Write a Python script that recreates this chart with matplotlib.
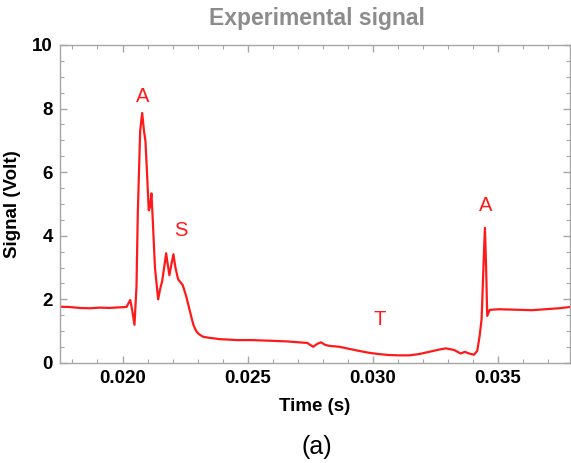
import numpy as np
import matplotlib
matplotlib.use('Agg')
import matplotlib.pyplot as plt
from matplotlib.ticker import MultipleLocator, FormatStrFormatter

# Trace (time in s, signal in V)
time_s = [0.017486, 0.017885, 0.018284, 0.018683, 0.019082, 0.019481, 0.019880,
          0.020160, 0.020307, 0.020379, 0.020479, 0.020559, 0.020611, 0.020706,
          0.020786, 0.020858, 0.020918, 0.020978, 0.021049, 0.021097, 0.021157,
          0.021209, 0.021297, 0.021425, 0.021496, 0.021584, 0.021664, 0.021744,
          0.021808, 0.021875, 0.021955, 0.022035, 0.022115, 0.022223, 0.022406,
          0.022542, 0.022614, 0.022741, 0.022833, 0.022941, 0.023033, 0.023204,
          0.023392, 0.023591, 0.023871, 0.024589, 0.025188,
          0.026544, 0.027382, 0.027622, 0.027781, 0.027929, 0.028100, 0.028260,
          0.028659, 0.029457, 0.029856, 0.030255, 0.030654, 0.031053, 0.031452,
          0.031851, 0.032370, 0.032650, 0.032917,
          0.033248, 0.033515, 0.033687, 0.033847, 0.034046, 0.034178, 0.034274,
          0.034353, 0.034425, 0.034485, 0.034533, 0.034577, 0.034673, 0.035044,
          0.036361, 0.037438, 0.037877]
signal_v = [1.77, 1.76, 1.73, 1.72, 1.74, 1.73, 1.75,
            1.76, 1.98, 1.70, 1.20, 2.40, 4.70, 7.30,
            7.86, 7.30, 6.97, 6.00, 4.80, 4.90, 5.33,
            4.50, 3.00, 2.00, 2.30, 2.57, 3.00, 3.45,
            3.10, 2.76, 3.10, 3.42, 3.00, 2.63, 2.45,
            2.11, 1.88, 1.48, 1.20, 1.01, 0.92, 0.83,
            0.80, 0.78, 0.75, 0.72, 0.72,
            0.68, 0.63, 0.51, 0.60, 0.65, 0.57, 0.54,
            0.51, 0.38, 0.32, 0.28, 0.25, 0.24, 0.24,
            0.28, 0.37, 0.42, 0.46,
            0.41, 0.30, 0.35, 0.30, 0.26, 0.38, 0.85,
            1.38, 3.00, 4.25, 3.00, 1.48, 1.67, 1.69,
            1.66, 1.72, 1.76]

# Wave labels
label_text = ['A', 'S', 'T', 'A']
label_t = [0.020786, 0.022314, 0.030279, 0.034505]
label_v = [8.38, 4.18, 1.38, 4.96]

RED = '#ff1a1a'
GRAY = '#a6a6a6'

plt.rcParams['font.family'] = ['Liberation Sans', 'DejaVu Sans']

fig = plt.figure(figsize=(5.71, 4.63), dpi=100)
ax = fig.add_axes([0.105, 0.216, 0.893, 0.687])

ax.plot(time_s, signal_v, color=RED, linewidth=1.6)
for txt, t, v in zip(label_text, label_t, label_v):
    ax.text(t, v, txt, color=RED, fontsize=14.5, ha='center', va='center')

ax.set_xlim(0.0175, 0.03788)
ax.set_ylim(0, 10)
ax.xaxis.set_major_locator(MultipleLocator(0.005))
ax.xaxis.set_minor_locator(MultipleLocator(0.001))
ax.xaxis.set_major_formatter(FormatStrFormatter('%.3f'))
ax.yaxis.set_major_locator(MultipleLocator(2))
ax.yaxis.set_minor_locator(MultipleLocator(0.5))
ax.yaxis.set_major_formatter(FormatStrFormatter('%d'))

for s in ax.spines.values():
    s.set_color(GRAY)
    s.set_linewidth(1.0)
ax.tick_params(which='both', direction='in', top=True, right=True, color=GRAY)
ax.tick_params(which='major', length=5, width=1.0, labelsize=13.5, pad=5)
ax.tick_params(which='minor', length=3, width=0.8)
for lab in ax.get_xticklabels() + ax.get_yticklabels():
    lab.set_fontweight('bold')

ax.set_xlabel('Time (s)', fontsize=13.5, fontweight='bold', labelpad=8)
ax.set_ylabel('Signal (Volt)', fontsize=13.5, fontweight='bold', labelpad=8)
fig.text(0.555, 0.959, 'Experimental signal', fontsize=16.5, fontweight='bold',
         color='#8c8c8c', ha='center', va='center')
fig.text(0.555, 0.035, '(a)', fontsize=18, ha='center', va='center')

fig.savefig('out.png', dpi=100)
